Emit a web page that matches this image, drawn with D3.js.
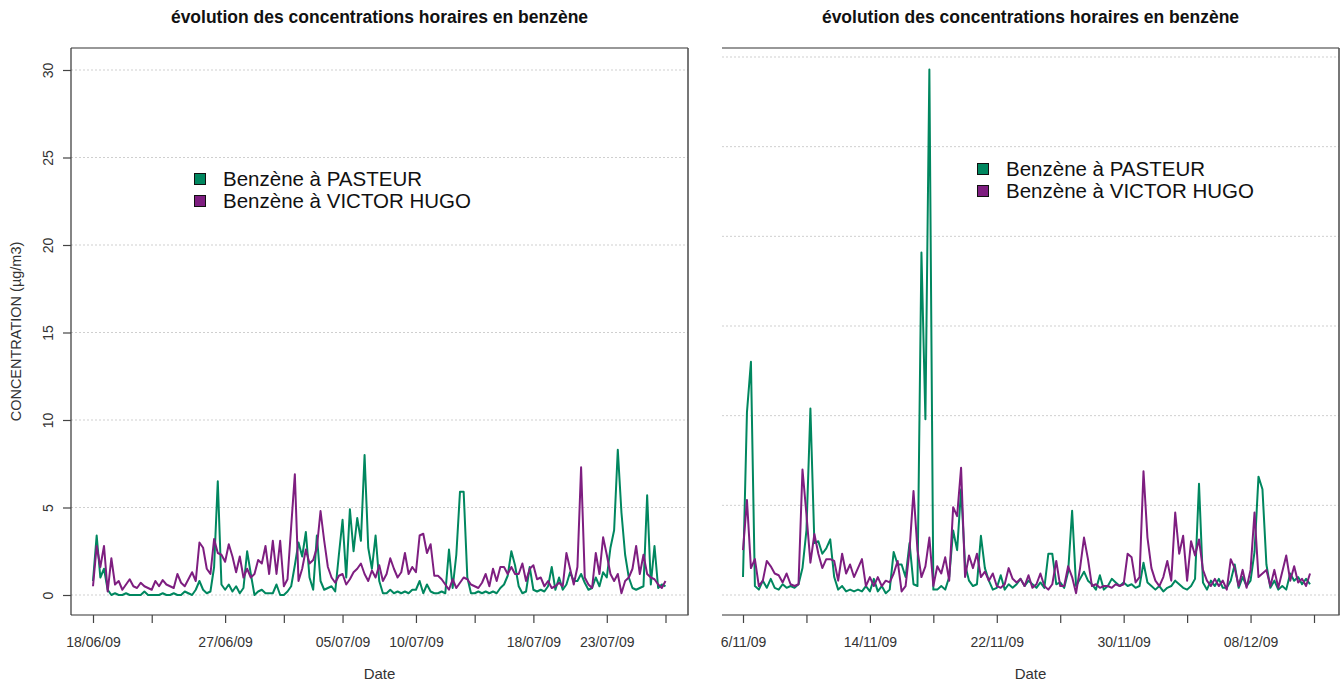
<!DOCTYPE html>
<html><head><meta charset="utf-8">
<script src="https://cdn.jsdelivr.net/npm/d3@7"></script>
<style>
body{margin:0;background:#fff}
svg text{font-family:"Liberation Sans",Arial,Helvetica,sans-serif}
</style>
</head><body>
<svg id="c" width="1341" height="683"></svg>
<script>
// ---------- data (6-hourly values, µg/m3) ----------
const seriesNames = ["Benzène à PASTEUR", "Benzène à VICTOR HUGO"];
const seriesColors = ["#00875f", "#7e1e80"];
const titleText = "évolution des concentrations horaires en benzène";
const yTitle = "CONCENTRATION (µg/m3)";
const xTitle = "Date";
const stepHours = 6;
const yTicks = [0, 5, 10, 15, 20, 25, 30];

const summerStart = "2009-06-18", summerEnd = "2009-07-27";
const summerTickDates = ["2009-06-18","2009-06-22","2009-06-27","2009-07-01","2009-07-05","2009-07-10","2009-07-14","2009-07-18","2009-07-23","2009-07-27"];
const summerTickLabels = ["18/06/09","","27/06/09","","05/07/09","10/07/09","","18/07/09","23/07/09",""];

const pasteurSummer = [
 0.8,3.4,1.0,1.5, 0.3,0.0,0.1,0.0, 0.0,0.1,0.0,0.0, 0.0,0.0,0.2,0.0, 0.0,0.0,0.0,0.1,
 0.0,0.0,0.1,0.0, 0.0,0.2,0.1,0.0, 0.3,0.8,0.3,0.1, 0.2,1.6,6.5,0.6, 0.3,0.6,0.2,0.5,
 0.1,0.4,2.5,1.2, 0.0,0.2,0.3,0.1, 0.1,0.1,0.6,0.0, 0.0,0.2,0.5,1.7, 3.0,2.2,3.6,1.0,
 0.3,3.4,0.8,0.3, 0.4,0.5,0.2,2.3, 4.3,1.0,4.9,2.5, 4.4,3.1,8.0,2.7, 1.5,3.4,0.8,0.1,
 0.1,0.3,0.1,0.2, 0.1,0.2,0.1,0.3, 0.3,0.8,0.1,0.6, 0.2,0.1,0.1,0.2, 0.1,2.6,0.4,2.3,
 5.9,5.9,1.0,0.1, 0.1,0.2,0.1,0.2, 0.1,0.2,0.1,0.4, 0.6,1.1,2.5,1.7, 0.5,0.1,0.2,1.6,
 0.3,0.2,0.3,0.2, 0.5,1.6,0.3,1.0, 0.3,0.6,1.3,0.8, 0.8,1.2,0.7,0.3, 0.4,1.0,0.5,1.3,
 1.0,2.7,3.7,8.3, 4.7,2.3,1.0,0.4, 0.3,0.4,0.5,5.7, 0.6,2.8,0.4,0.6, 0.5
];
const victorHugoSummer = [
 0.5,2.8,1.6,2.8, 0.2,2.1,0.6,0.8, 0.3,0.6,0.9,0.5, 0.4,0.7,0.5,0.4, 0.3,0.8,0.5,0.85,
 0.6,0.5,0.4,1.2, 0.7,0.5,0.9,1.3, 0.8,3.0,2.7,1.5, 1.2,3.2,2.4,2.3, 1.9,2.9,2.2,1.3,
 2.2,1.0,1.5,1.0, 1.2,2.0,1.8,2.8, 1.2,3.1,1.2,3.1, 0.5,0.9,3.9,6.9, 0.8,1.5,2.6,1.8,
 2.0,2.7,4.8,3.1, 1.6,1.0,0.7,1.1, 1.2,0.6,0.9,1.3, 1.5,1.8,1.2,0.8, 1.4,1.0,1.7,0.8,
 1.2,2.1,1.5,1.0, 1.3,2.4,1.2,1.6, 1.3,3.4,3.5,2.4, 2.9,1.1,1.1,0.9, 0.6,0.3,0.9,0.4,
 0.7,1.0,0.9,0.6, 0.5,0.4,0.7,1.2, 0.5,1.5,0.8,1.6, 1.6,1.2,1.6,1.2, 1.2,1.8,0.8,1.5,
 1.7,0.9,1.0,0.5, 0.8,0.4,0.5,0.7, 0.5,2.4,1.5,0.6, 1.6,7.3,1.0,0.6, 0.4,2.4,1.2,3.3,
 2.3,1.2,0.8,1.2, 0.1,0.8,1.0,1.5, 2.8,1.2,2.3,1.2, 1.0,0.9,0.6,0.4, 0.8
];

const autumnStart = "2009-11-06", autumnEnd = "2009-12-12";
const autumnTickDates = ["2009-11-06","2009-11-10","2009-11-14","2009-11-18","2009-11-22","2009-11-26","2009-11-30","2009-12-04","2009-12-08","2009-12-12"];
const autumnTickLabels = ["6/11/09","","14/11/09","","22/11/09","","30/11/09","","08/12/09",""];

const pasteurAutumn = [
 1.0,10.2,13.0,0.5, 0.3,0.8,0.4,0.9, 0.4,0.3,0.6,0.4, 0.5,0.4,0.6,1.5, 3.6,10.4,2.9,3.0,
 2.3,2.6,3.1,1.0, 0.3,0.5,0.2,0.3, 0.2,0.3,0.2,0.5, 0.2,0.9,0.2,0.5, 0.1,0.3,2.4,1.7,
 1.7,1.0,2.9,0.6, 0.5,19.1,9.8,29.3, 0.3,0.3,0.5,0.3, 1.0,3.6,2.5,5.9, 1.7,0.8,0.5,0.6,
 3.3,1.5,0.8,0.3, 0.4,1.1,0.3,0.6, 0.4,0.6,0.9,0.5, 0.8,0.6,0.4,0.7, 0.4,2.3,2.3,0.6,
 0.7,0.4,1.3,4.7, 0.5,0.9,1.3,0.8, 0.6,0.3,1.1,0.3, 0.5,0.9,0.7,0.5, 0.7,0.5,0.6,0.4,
 0.5,1.8,0.7,0.5, 0.3,0.5,0.2,0.4, 0.5,0.8,0.6,0.4, 0.3,0.5,0.9,6.2, 0.7,0.3,0.8,0.5,
 0.9,0.4,0.4,0.8, 1.7,0.4,1.0,0.5, 0.8,2.4,6.6,5.9, 1.7,0.4,0.8,0.3, 0.5,0.3,1.2,0.8,
 1.0,0.6,0.9,0.6
];
const victorHugoAutumn = [
 2.5,5.3,1.5,2.0, 0.5,0.8,1.9,1.6, 1.2,1.1,0.7,1.2, 0.6,0.5,0.6,7.0, 4.5,1.8,3.4,2.3,
 1.5,2.0,2.0,1.9, 0.8,2.3,1.2,1.7, 1.0,1.5,2.0,0.5, 1.0,0.5,1.0,0.5, 0.8,0.7,1.2,1.9,
 0.2,0.5,2.5,5.8, 2.5,1.0,1.6,3.2, 0.5,1.6,1.2,2.1, 0.8,4.9,4.4,7.1, 1.0,2.2,1.5,2.3,
 1.0,1.3,0.8,1.2, 0.5,0.4,0.6,1.5, 0.9,0.7,0.9,0.5, 1.1,0.4,0.6,1.2, 0.5,0.3,0.6,1.9,
 0.5,0.5,1.6,1.0, 0.1,1.5,3.2,2.0, 0.5,0.6,0.4,0.5, 0.5,0.4,0.6,0.5, 0.6,2.3,2.1,0.7,
 1.0,6.9,3.2,1.5, 0.8,0.5,1.0,1.9, 0.8,4.6,2.3,3.3, 0.8,3.0,2.2,3.1, 1.4,0.8,0.5,0.9,
 0.5,0.8,0.3,2.0, 1.5,0.5,1.4,0.4, 1.4,4.6,1.0,1.2, 1.4,0.5,1.4,0.4, 1.3,2.2,0.8,1.6,
 0.7,0.9,0.5,1.2
];

// ---------- drawing ----------
const svg = d3.select("#c");
const parse = d3.utcParse("%Y-%m-%d");
const HOUR = 3600e3;

function drawPanel(cfg) {
  const g = svg.append("g");
  const x = d3.scaleUtc().domain([parse(cfg.start), parse(cfg.end)]).range(cfg.xRange);
  const y = d3.scaleLinear().domain([0, 30]).range(cfg.yRange);
  const t0 = parse(cfg.start).getTime();

  // grid
  g.append("g").selectAll("line").data(yTicks).join("line")
    .attr("x1", cfg.box[0]).attr("x2", cfg.box[1])
    .attr("y1", d => y(d)).attr("y2", d => y(d))
    .attr("stroke", "#cfcfcf").attr("stroke-width", 1).attr("stroke-dasharray", "2,2");

  // series
  const line = d3.line()
    .x((d, i) => x(new Date(t0 + i * stepHours * HOUR)))
    .y(d => y(d));
  [cfg.green, cfg.purple].forEach((vals, k) => {
    g.append("path").datum(vals).attr("d", line)
      .attr("fill", "none").attr("stroke", seriesColors[k])
      .attr("stroke-width", cfg.lw).attr("stroke-linejoin", "round");
  });

  // frame
  const [bx0, bx1, by0, by1] = cfg.box;
  const fr = g.append("g").attr("stroke", "#333").attr("stroke-width", 1.2).attr("fill", "none");
  fr.append("line").attr("x1", bx0).attr("x2", bx1).attr("y1", by0).attr("y2", by0);
  fr.append("line").attr("x1", bx0).attr("x2", bx1 + 0.6).attr("y1", by1).attr("y2", by1);
  fr.append("line").attr("x1", bx1).attr("x2", bx1).attr("y1", by0).attr("y2", by1).attr("stroke", "#555").attr("stroke-width", 1.6);
  if (cfg.showY) fr.append("line").attr("x1", bx0).attr("x2", bx0).attr("y1", by0).attr("y2", by1);

  // x axis
  const xa = g.append("g").attr("transform", `translate(0,${by1})`)
    .call(d3.axisBottom(x).tickValues(cfg.tickDates.map(parse))
      .tickFormat((d, i) => cfg.tickLabels[i]).tickSize(8).tickPadding(14));
  xa.select(".domain").remove();
  xa.selectAll("line").attr("stroke", "#444").attr("stroke-width", 1.2);
  xa.selectAll("text").attr("fill", "#333").attr("font-size", 14)
    .style("font-family", '"Liberation Sans",Arial,sans-serif');

  // y axis
  if (cfg.showY) {
    const ya = g.append("g").attr("transform", `translate(${bx0},0)`)
      .call(d3.axisLeft(y).tickValues(yTicks).tickSize(8));
    ya.select(".domain").remove();
    ya.selectAll("line").attr("stroke", "#444").attr("stroke-width", 1.2);
    ya.selectAll("text").attr("transform", "rotate(-90)")
      .attr("x", 0).attr("y", -18).attr("dy", 0)
      .attr("text-anchor", "middle").attr("fill", "#333").attr("font-size", 14)
      .style("font-family", '"Liberation Sans",Arial,sans-serif');
    svg.append("text").attr("transform", `translate(21,${(by0 + by1) / 2}) rotate(-90)`)
      .attr("text-anchor", "middle").attr("font-size", 14.5).attr("fill", "#333")
      .text(yTitle);
  }

  // titles
  const cx = (bx0 + bx1) / 2;
  svg.append("text").attr("x", cx).attr("y", 22.7).attr("text-anchor", "middle")
    .attr("font-size", 17.5).attr("font-weight", "bold").attr("fill", "#111").text(titleText);
  svg.append("text").attr("x", cx).attr("y", 679).attr("text-anchor", "middle")
    .attr("font-size", 15).attr("fill", "#333").text(xTitle);

  // legend
  const lg = svg.append("g").attr("transform", `translate(${cfg.legend[0]},${cfg.legend[1]})`);
  seriesNames.forEach((name, k) => {
    lg.append("rect").attr("x", -5.5).attr("y", k * 22 - 5.5).attr("width", 11).attr("height", 11)
      .attr("fill", seriesColors[k]).attr("stroke", "#111").attr("stroke-width", 1);
    lg.append("text").attr("x", 23).attr("y", k * 22 + 7).attr("font-size", 20.5)
      .attr("fill", "#111").text(name);
  });
}

drawPanel({
  start: summerStart, end: summerEnd, xRange: [93, 665.5], yRange: [595, 70],
  box: [71, 688, 48, 615], green: pasteurSummer, purple: victorHugoSummer,
  tickDates: summerTickDates, tickLabels: summerTickLabels, showY: true,
  legend: [200, 179], lw: 2
});
drawPanel({
  start: autumnStart, end: autumnEnd, xRange: [743, 1314], yRange: [595, 57],
  box: [722, 1339, 48, 615], green: pasteurAutumn, purple: victorHugoAutumn,
  tickDates: autumnTickDates, tickLabels: autumnTickLabels, showY: false,
  legend: [983, 169], lw: 2
});
</script>
</body></html>
